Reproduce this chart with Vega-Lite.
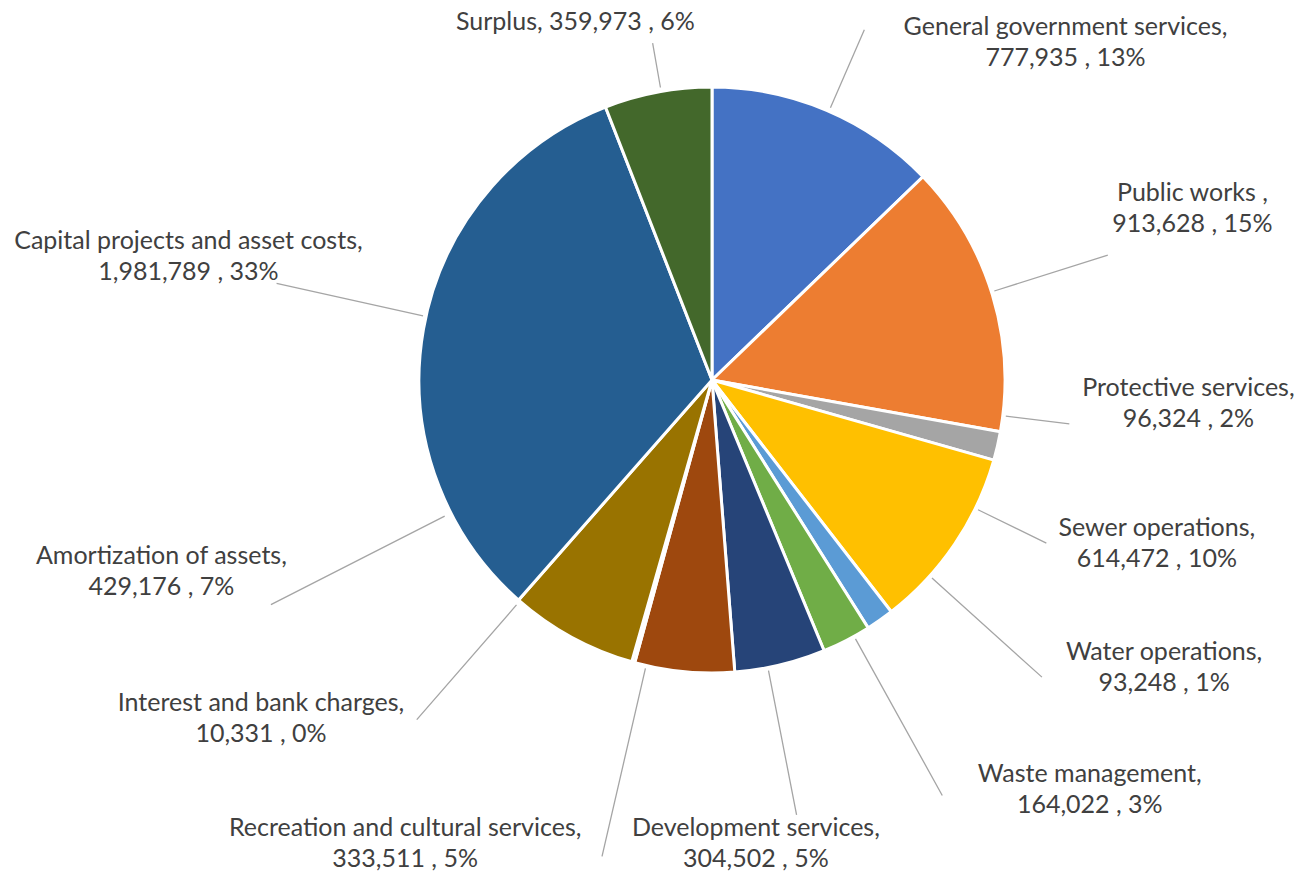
{
  "$schema": "https://vega.github.io/schema/vega-lite/v6.json",
  "width": 1176,
  "height": 760,
  "autosize": {"type": "none"},
  "padding": {"left": 124, "top": 0, "right": 10, "bottom": 111},
  "background": "white",
  "config": {
    "view": {"stroke": null},
    "text": {"font": "Lato", "fontSize": 25, "fill": "#404040", "align": "center", "baseline": "middle", "lineBreak": "\n", "lineHeight": 31, "dy": -15.5}
  },
  "data": {
    "values": [
      {"idx": 1, "name": "General government services", "value": 777935, "label": "General government services,\n777,935 , 13%"},
      {"idx": 2, "name": "Public works", "value": 913628, "label": "Public works ,\n913,628 , 15%"},
      {"idx": 3, "name": "Protective services", "value": 96324, "label": "Protective services,\n96,324 , 2%"},
      {"idx": 4, "name": "Sewer operations", "value": 614472, "label": "Sewer operations,\n614,472 , 10%"},
      {"idx": 5, "name": "Water operations", "value": 93248, "label": "Water operations,\n93,248 , 1%"},
      {"idx": 6, "name": "Waste management", "value": 164022, "label": "Waste management,\n164,022 , 3%"},
      {"idx": 7, "name": "Development services", "value": 304502, "label": "Development services,\n304,502 , 5%"},
      {"idx": 8, "name": "Recreation and cultural services", "value": 333511, "label": "Recreation and cultural services,\n333,511 , 5%"},
      {"idx": 9, "name": "Interest and bank charges", "value": 10331, "label": "Interest and bank charges,\n10,331 , 0%"},
      {"idx": 10, "name": "Amortization of assets", "value": 429176, "label": "Amortization of assets,\n429,176 , 7%"},
      {"idx": 11, "name": "Capital projects and asset costs", "value": 1981789, "label": "Capital projects and asset costs,\n1,981,789 , 33%"},
      {"idx": 12, "name": "Surplus", "value": 359973, "label": "Surplus,  359,973 , 6%"}
    ]
  },
  "transform": [
    {"stack": "value", "groupby": [], "sort": [{"field": "idx", "order": "ascending"}], "as": ["s0", "s1"]}
  ],
  "layer": [
    {
      "mark": {"type": "arc", "radius": 293, "stroke": "white", "strokeWidth": 3},
      "encoding": {
        "theta": {"field": "s1", "type": "quantitative", "stack": null},
        "theta2": {"field": "s0"},
        "color": {
          "field": "name", "type": "nominal", "legend": null,
          "scale": {
            "domain": ["General government services", "Public works", "Protective services", "Sewer operations", "Water operations", "Waste management", "Development services", "Recreation and cultural services", "Interest and bank charges", "Amortization of assets", "Capital projects and asset costs", "Surplus"],
            "range": ["#4472C4", "#ED7D31", "#A5A5A5", "#FFC000", "#5B9BD5", "#70AD47", "#264478", "#9E480E", "#636363", "#997300", "#255E91", "#43682B"]
          }
        }
      }
    },
    {
      "transform": [{"filter": {"field": "idx", "equal": 1}}],
      "layer": [
        {"mark": {"type": "arc", "radius": 382, "radius2": 297, "thetaOffset": 0.4102, "theta2Offset": 0.4102, "filled": false, "stroke": "#a5a5a5", "strokeWidth": 1.3},
         "encoding": {"theta": {"field": "s0", "type": "quantitative", "stack": null}, "theta2": {"field": "s0"}}},
        {"mark": {"type": "text", "radius": 489, "thetaOffset": 0.8081},
         "encoding": {"theta": {"field": "s0", "type": "quantitative", "stack": null}, "text": {"field": "label"}}}
      ]
    },
    {
      "transform": [{"filter": {"field": "idx", "equal": 2}}],
      "layer": [
        {"mark": {"type": "arc", "radius": 415, "radius2": 296, "thetaOffset": 0.4613, "theta2Offset": 0.4613, "filled": false, "stroke": "#a5a5a5", "strokeWidth": 1.3},
         "encoding": {"theta": {"field": "s0", "type": "quantitative", "stack": null}, "theta2": {"field": "s0"}}},
        {"mark": {"type": "text", "radius": 510, "thetaOffset": 0.4246},
         "encoding": {"theta": {"field": "s0", "type": "quantitative", "stack": null}, "text": {"field": "label"}}}
      ]
    },
    {
      "transform": [{"filter": {"field": "idx", "equal": 3}}],
      "layer": [
        {"mark": {"type": "arc", "radius": 360, "radius2": 296, "thetaOffset": -0.0555, "theta2Offset": -0.0555, "filled": false, "stroke": "#a5a5a5", "strokeWidth": 1.3},
         "encoding": {"theta": {"field": "s0", "type": "quantitative", "stack": null}, "theta2": {"field": "s0"}}},
        {"mark": {"type": "text", "radius": 477, "thetaOffset": -0.1288},
         "encoding": {"theta": {"field": "s0", "type": "quantitative", "stack": null}, "text": {"field": "label"}}}
      ]
    },
    {
      "transform": [{"filter": {"field": "idx", "equal": 4}}],
      "layer": [
        {"mark": {"type": "arc", "radius": 372, "radius2": 296, "thetaOffset": 0.1766, "theta2Offset": 0.1766, "filled": false, "stroke": "#a5a5a5", "strokeWidth": 1.3},
         "encoding": {"theta": {"field": "s0", "type": "quantitative", "stack": null}, "theta2": {"field": "s0"}}},
        {"mark": {"type": "text", "radius": 474, "thetaOffset": 0.0754},
         "encoding": {"theta": {"field": "s0", "type": "quantitative", "stack": null}, "text": {"field": "label"}}}
      ]
    },
    {
      "transform": [{"filter": {"field": "idx", "equal": 5}}],
      "layer": [
        {"mark": {"type": "arc", "radius": 444, "radius2": 296, "thetaOffset": -0.1792, "theta2Offset": -0.1792, "filled": false, "stroke": "#a5a5a5", "strokeWidth": 1.3},
         "encoding": {"theta": {"field": "s0", "type": "quantitative", "stack": null}, "theta2": {"field": "s0"}}},
        {"mark": {"type": "text", "radius": 536, "thetaOffset": -0.3451},
         "encoding": {"theta": {"field": "s0", "type": "quantitative", "stack": null}, "text": {"field": "label"}}}
      ]
    },
    {
      "transform": [{"filter": {"field": "idx", "equal": 6}}],
      "layer": [
        {"mark": {"type": "arc", "radius": 475, "radius2": 296, "thetaOffset": 0.056, "theta2Offset": 0.056, "filled": false, "stroke": "#a5a5a5", "strokeWidth": 1.3},
         "encoding": {"theta": {"field": "s0", "type": "quantitative", "stack": null}, "theta2": {"field": "s0"}}},
        {"mark": {"type": "text", "radius": 557, "thetaOffset": -0.1831},
         "encoding": {"theta": {"field": "s0", "type": "quantitative", "stack": null}, "text": {"field": "label"}}}
      ]
    },
    {
      "transform": [{"filter": {"field": "idx", "equal": 7}}],
      "layer": [
        {"mark": {"type": "arc", "radius": 443, "radius2": 296, "thetaOffset": 0.2005, "theta2Offset": 0.2005, "filled": false, "stroke": "#a5a5a5", "strokeWidth": 1.3},
         "encoding": {"theta": {"field": "s0", "type": "quantitative", "stack": null}, "theta2": {"field": "s0"}}},
        {"mark": {"type": "text", "radius": 466, "thetaOffset": 0.2983},
         "encoding": {"theta": {"field": "s0", "type": "quantitative", "stack": null}, "text": {"field": "label"}}}
      ]
    },
    {
      "transform": [{"filter": {"field": "idx", "equal": 8}}],
      "layer": [
        {"mark": {"type": "arc", "radius": 489, "radius2": 296, "thetaOffset": 0.3047, "theta2Offset": 0.3047, "filled": false, "stroke": "#a5a5a5", "strokeWidth": 1.3},
         "encoding": {"theta": {"field": "s0", "type": "quantitative", "stack": null}, "theta2": {"field": "s0"}}},
        {"mark": {"type": "text", "radius": 556, "thetaOffset": 0.6625},
         "encoding": {"theta": {"field": "s0", "type": "quantitative", "stack": null}, "text": {"field": "label"}}}
      ]
    },
    {
      "transform": [{"filter": {"field": "idx", "equal": 9}}],
      "layer": [
        {"mark": {"type": "arc", "radius": 450, "radius2": 298, "thetaOffset": 0.4487, "theta2Offset": 0.4487, "filled": false, "stroke": "#a5a5a5", "strokeWidth": 1.3},
         "encoding": {"theta": {"field": "s0", "type": "quantitative", "stack": null}, "theta2": {"field": "s0"}}},
        {"mark": {"type": "text", "radius": 564, "thetaOffset": 0.6599},
         "encoding": {"theta": {"field": "s0", "type": "quantitative", "stack": null}, "text": {"field": "label"}}}
      ]
    },
    {
      "transform": [{"filter": {"field": "idx", "equal": 10}}],
      "layer": [
        {"mark": {"type": "arc", "radius": 495, "radius2": 300, "thetaOffset": 0.8221, "theta2Offset": 0.8221, "filled": false, "stroke": "#a5a5a5", "strokeWidth": 1.3},
         "encoding": {"theta": {"field": "s0", "type": "quantitative", "stack": null}, "theta2": {"field": "s0"}}},
        {"mark": {"type": "text", "radius": 583, "thetaOffset": 0.9582},
         "encoding": {"theta": {"field": "s0", "type": "quantitative", "stack": null}, "text": {"field": "label"}}}
      ]
    },
    {
      "transform": [{"filter": {"field": "idx", "equal": 11}}],
      "layer": [
        {"mark": {"type": "arc", "radius": 446, "radius2": 296, "thetaOffset": 1.0678, "theta2Offset": 1.0678, "filled": false, "stroke": "#a5a5a5", "strokeWidth": 1.3},
         "encoding": {"theta": {"field": "s0", "type": "quantitative", "stack": null}, "theta2": {"field": "s0"}}},
        {"mark": {"type": "text", "radius": 538, "thetaOffset": 1.0818},
         "encoding": {"theta": {"field": "s0", "type": "quantitative", "stack": null}, "text": {"field": "label"}}}
      ]
    },
    {
      "transform": [{"filter": {"field": "idx", "equal": 12}}],
      "layer": [
        {"mark": {"type": "arc", "radius": 342, "radius2": 297, "thetaOffset": 0.1976, "theta2Offset": 0.1976, "filled": false, "stroke": "#a5a5a5", "strokeWidth": 1.3},
         "encoding": {"theta": {"field": "s0", "type": "quantitative", "stack": null}, "theta2": {"field": "s0"}}},
        {"mark": {"type": "text", "radius": 383, "thetaOffset": 0.0073, "dy": 0},
         "encoding": {"theta": {"field": "s0", "type": "quantitative", "stack": null}, "text": {"field": "label"}}}
      ]
    }
  ]
}
